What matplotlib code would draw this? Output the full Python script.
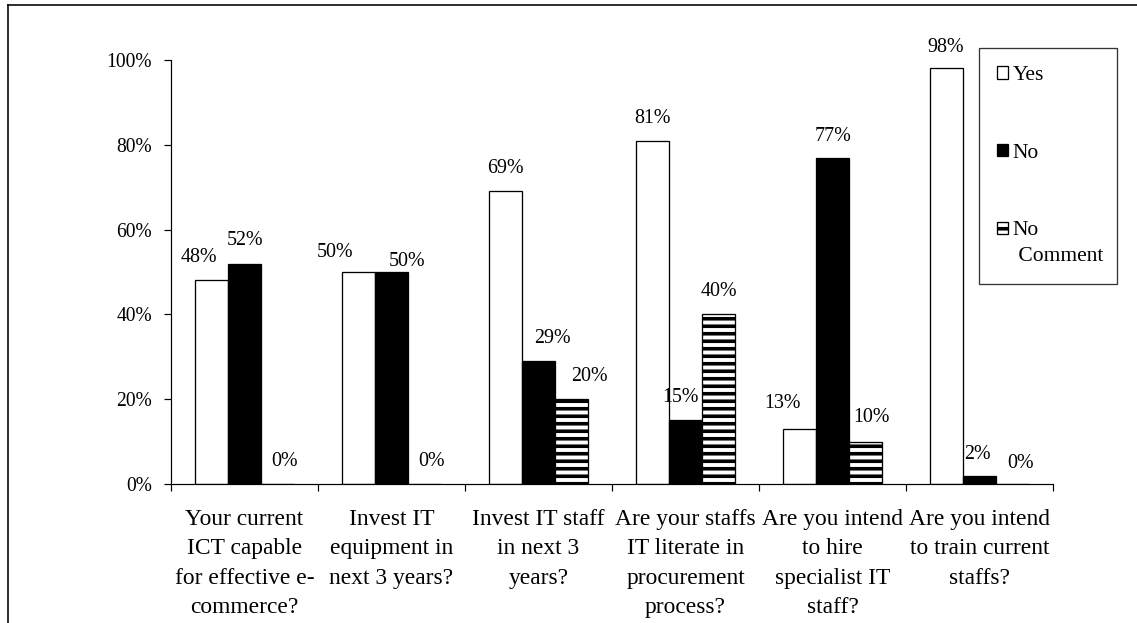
import matplotlib
matplotlib.use("Agg")
import matplotlib.pyplot as plt
from matplotlib.patches import Rectangle
from matplotlib.lines import Line2D
from matplotlib.legend_handler import HandlerPatch
import numpy as np

# ---- data -------------------------------------------------------------
categories = [
    "Your current\nICT capable\nfor effective e-\ncommerce?",
    "Invest IT\nequipment in\nnext 3 years?",
    "Invest IT staff\nin next 3\nyears?",
    "Are your staffs\nIT literate in\nprocurement\nprocess?",
    "Are you intend\nto hire\nspecialist IT\nstaff?",
    "Are you intend\nto train current\nstaffs?",
]
series_names = ["Yes", "No", "No\n Comment"]
yes_pct = [48, 50, 69, 81, 13, 98]
no_pct = [52, 50, 29, 15, 77, 2]
no_comment_pct = [0, 0, 20, 40, 10, 0]
y_ticks = [0, 20, 40, 60, 80, 100]

# per-label nudges (pixels) for the value labels: (dx, dy)
label_nudge = [
    [(-12.5, 0), (0, 1), (7, 0)],
    [(-23, -3), (15, -12), (7, 0)],
    [(0, 0), (13.5, 0), (18, 0)],
    [(0, 0), (-5, 0), (0, 0)],
    [(-17, 3), (0, -1), (6, 1.5)],
    [(-1, -1.5), (-2.5, -1), (8, -2)],
]

# ---- styling ----------------------------------------------------------
DPI = 90
W, H = 1137, 623


def pt(px):
    return px * 72.0 / DPI


plt.rcParams["font.family"] = ["Liberation Serif", "DejaVu Serif"]
plt.rcParams["hatch.linewidth"] = pt(3.6)
plt.rcParams["hatch.color"] = "black"

fig = plt.figure(figsize=(W / DPI, H / DPI), dpi=DPI)
ax = fig.add_axes([171 / W, 1 - 484 / H, (1053 - 171) / W, (484 - 60) / H])

series = [yes_pct, no_pct, no_comment_pct]
faces = ["white", "black", "white"]
hatches = [None, None, "--"]
bar_w = 33 / 147
x = np.arange(len(categories))
edge_lw = pt(1.3)

bar_groups = []
for i, (vals, fc, hatch) in enumerate(zip(series, faces, hatches)):
    offs = (i - 1) * bar_w
    bars = ax.bar(x + offs, np.array(vals) / 100.0, width=bar_w, color=fc,
                  edgecolor="black", linewidth=edge_lw, hatch=hatch,
                  label=series_names[i], zorder=2)
    bar_groups.append(bars)
    for j, v in enumerate(vals):
        dx, dy = label_nudge[j][i]
        ax.annotate(f"{v}%", xy=(x[j] + offs, v / 100.0),
                    xytext=(dx, 22.5 + dy), textcoords="offset pixels",
                    ha="center", va="center", fontsize=pt(20), zorder=3)

ax.set_xlim(-0.5, len(categories) - 0.5)
ax.set_ylim(0, 1.0)
ax.set_yticks([t / 100 for t in y_ticks])
ax.set_yticklabels([f"{t}%" for t in y_ticks], fontsize=pt(19.5))
ax.set_xticks(x)
ax.set_xticklabels(categories, fontsize=pt(23.5), linespacing=1.52)
ax.set_xticks(np.arange(-0.5, len(categories)), minor=True)
ax.tick_params(axis="x", which="major", length=0, pad=pt(25))
ax.tick_params(axis="x", which="minor", length=pt(7), width=pt(1.2),
               direction="out", color="black")
ax.tick_params(axis="y", which="major", length=pt(7), width=pt(1.2),
               direction="out", pad=pt(12), color="black")

for side in ["top", "right"]:
    ax.spines[side].set_visible(False)
for side in ["left", "bottom"]:
    ax.spines[side].set_linewidth(pt(1.2))
    ax.spines[side].set_color("black")


def legend_patch(legend, orig_handle, xdescent, ydescent, width, height, fontsize):
    shift = 0.0
    if orig_handle.get_hatch():
        shift = fontsize * 0.68
    return Rectangle((-xdescent, -ydescent + shift), width, height)


handles = [bg[0] for bg in bar_groups]
leg = ax.legend(handles, series_names,
                loc="upper left",
                bbox_to_anchor=(979 / W, 1 - 280 / H, 138 / W, 232 / H),
                bbox_transform=fig.transFigure, mode="expand",
                borderaxespad=0, frameon=True, fancybox=False,
                edgecolor="#333333", framealpha=1,
                fontsize=pt(21.5), handlelength=0.52, handleheight=0.52,
                handletextpad=0.2, labelspacing=2.72, borderpad=0.85,
                handler_map={Rectangle: HandlerPatch(patch_func=legend_patch)})
leg.get_frame().set_linewidth(pt(1.3))
for t in leg.get_texts():
    t.set_linespacing(1.45)

# outer frame of the chart area
fig.add_artist(Line2D([8 / W, 1.0], [1 - 4.5 / H, 1 - 4.5 / H],
                      transform=fig.transFigure, color="black", linewidth=pt(1.6)))
fig.add_artist(Line2D([8 / W, 8 / W], [0.0, 1 - 4.5 / H],
                      transform=fig.transFigure, color="black", linewidth=pt(1.6)))

fig.savefig("out.png", dpi=DPI, facecolor="white")
